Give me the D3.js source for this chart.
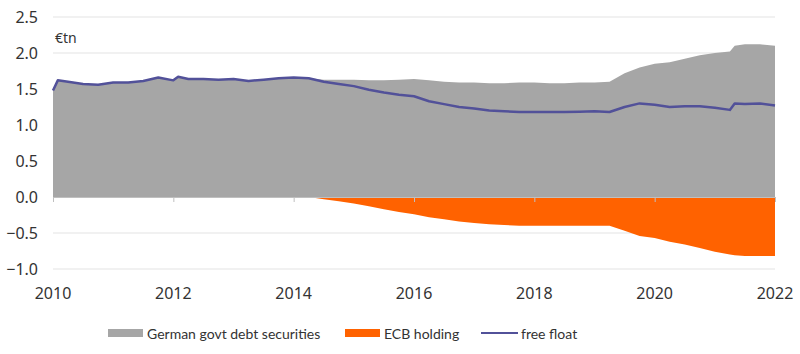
<!DOCTYPE html>
<html>
<head>
<meta charset="utf-8">
<script src="https://cdn.jsdelivr.net/npm/d3@7/dist/d3.min.js"></script>
<style>
  body { margin: 0; background: #fff; }
  text { font-family: "Noto Sans", sans-serif; fill: #333; }
  .legend text { font-family: Lato, sans-serif; }
</style>
</head>
<body>
<svg width="800" height="354"></svg>
<script>
// quarterly-ish observations (decimal years)
const dates = [2010.00, 2010.08, 2010.25, 2010.50, 2010.75, 2011.00, 2011.25, 2011.50, 2011.75,
  2012.00, 2012.08, 2012.25, 2012.50, 2012.75, 2013.00, 2013.25, 2013.50, 2013.75, 2014.00,
  2014.25, 2014.50, 2014.75, 2015.00, 2015.25, 2015.50, 2015.75, 2016.00, 2016.25, 2016.50,
  2016.75, 2017.00, 2017.25, 2017.50, 2017.75, 2018.00, 2018.25, 2018.50, 2018.75, 2019.00,
  2019.25, 2019.50, 2019.75, 2020.00, 2020.25, 2020.50, 2020.75, 2021.00, 2021.25, 2021.33,
  2021.50, 2021.75, 2022.00];

const germanDebt = [1.48, 1.62, 1.60, 1.57, 1.56, 1.59, 1.59, 1.61, 1.66,
  1.62, 1.67, 1.64, 1.64, 1.63, 1.64, 1.61, 1.63, 1.65, 1.66,
  1.65, 1.63, 1.63, 1.63, 1.62, 1.62, 1.63, 1.64, 1.62, 1.60,
  1.59, 1.59, 1.58, 1.58, 1.59, 1.59, 1.58, 1.58, 1.59, 1.59,
  1.60, 1.72, 1.80, 1.85, 1.87, 1.92, 1.97, 2.00, 2.02, 2.10,
  2.12, 2.12, 2.10];

const ecbHolding = [0, 0, 0, 0, 0, 0, 0, 0, 0,
  0, 0, 0, 0, 0, 0, 0, 0, 0, 0,
  0, -0.03, -0.06, -0.09, -0.13, -0.17, -0.21, -0.24, -0.28, -0.31,
  -0.34, -0.36, -0.38, -0.39, -0.40, -0.40, -0.40, -0.40, -0.40, -0.40,
  -0.40, -0.47, -0.54, -0.57, -0.62, -0.66, -0.71, -0.76, -0.80, -0.81,
  -0.82, -0.82, -0.82];

const freeFloat = [1.48, 1.62, 1.60, 1.57, 1.56, 1.59, 1.59, 1.61, 1.66,
  1.62, 1.67, 1.64, 1.64, 1.63, 1.64, 1.61, 1.63, 1.65, 1.66,
  1.65, 1.60, 1.57, 1.54, 1.49, 1.45, 1.42, 1.40, 1.33, 1.29,
  1.25, 1.23, 1.20, 1.19, 1.18, 1.18, 1.18, 1.18, 1.185, 1.19,
  1.18, 1.25, 1.30, 1.28, 1.25, 1.26, 1.26, 1.24, 1.21, 1.30,
  1.29, 1.30, 1.27];

const yTicks = [-1.0, -0.5, 0.0, 0.5, 1.0, 1.5, 2.0, 2.5];
const xTicks = [2010, 2012, 2014, 2016, 2018, 2020, 2022];

const rows = dates.map((t, i) => ({
  t: t, total: germanDebt[i], ecb: ecbHolding[i], ff: freeFloat[i]
}));

const svg = d3.select("svg");

const x = d3.scaleLinear().domain([2010, 2022]).range([53, 775]);
const y = d3.scaleLinear().domain([-1, 2.5]).range([269, 17]);

// gridlines
svg.append("g")
  .selectAll("line")
  .data(yTicks.filter(d => d !== 0))
  .enter()
  .append("line")
  .attr("x1", 53).attr("x2", 775)
  .attr("y1", d => y(d)).attr("y2", d => y(d))
  .attr("stroke", "#e3e3e3")
  .attr("stroke-width", 1);

// y labels
svg.append("g")
  .selectAll("text")
  .data(yTicks)
  .enter()
  .append("text")
  .attr("x", 38)
  .attr("y", d => y(d) + 6)
  .attr("text-anchor", "end")
  .style("font-size", "16px")
  .text(d => d3.format(".1f")(d));

// areas
const areaTotal = d3.area().x(d => x(d.t)).y0(y(0)).y1(d => y(d.total));
const areaEcb = d3.area().x(d => x(d.t)).y0(y(0)).y1(d => y(d.ecb));

svg.append("path")
  .attr("d", areaTotal(rows))
  .attr("fill", "#a6a6a6");

svg.append("path")
  .attr("d", areaEcb(rows))
  .attr("fill", "#ff6200");

// zero axis with ticks
const xAxis = d3.axisBottom(x)
  .tickValues(xTicks)
  .tickSize(5)
  .tickFormat("");
const ax = svg.append("g")
  .attr("transform", `translate(0,${y(0)})`)
  .call(xAxis);
ax.select(".domain").attr("stroke", "#bfbfbf");
ax.selectAll(".tick line").attr("stroke", "#bfbfbf");

// free float line
const line = d3.line().x(d => x(d.t)).y(d => y(d.ff));
svg.append("path")
  .attr("d", line(rows))
  .attr("fill", "none")
  .attr("stroke", "#525199")
  .attr("stroke-width", 2.5)
  .attr("stroke-linejoin", "round");

// x labels
svg.append("g")
  .selectAll("text")
  .data(xTicks)
  .enter()
  .append("text")
  .attr("x", d => x(d))
  .attr("y", 299)
  .attr("text-anchor", "middle")
  .style("font-size", "16px")
  .text(d => d);

// unit label
svg.append("text")
  .attr("x", 55).attr("y", 43)
  .style("font-size", "14px")
  .text("€tn");

// legend
const legend = [
  { label: "German govt debt securities", color: "#a6a6a6", x: 108, type: "box" },
  { label: "ECB holding", color: "#ff6200", x: 345, type: "box" },
  { label: "free float", color: "#525199", x: 481, type: "line" }
];
const lg = svg.append("g").attr("class", "legend")
  .selectAll("g").data(legend).enter().append("g");
lg.filter(d => d.type === "box").append("rect")
  .attr("x", d => d.x).attr("y", 329)
  .attr("width", 35).attr("height", 8)
  .attr("fill", d => d.color);
lg.filter(d => d.type === "line").append("line")
  .attr("x1", d => d.x).attr("x2", d => d.x + 37)
  .attr("y1", 333).attr("y2", 333)
  .attr("stroke", d => d.color).attr("stroke-width", 2);
lg.append("text")
  .attr("x", d => d.x + (d.type === "line" ? 40 : 39))
  .attr("y", 339)
  .style("font-size", "14px")
  .text(d => d.label);
</script>
</body>
</html>
